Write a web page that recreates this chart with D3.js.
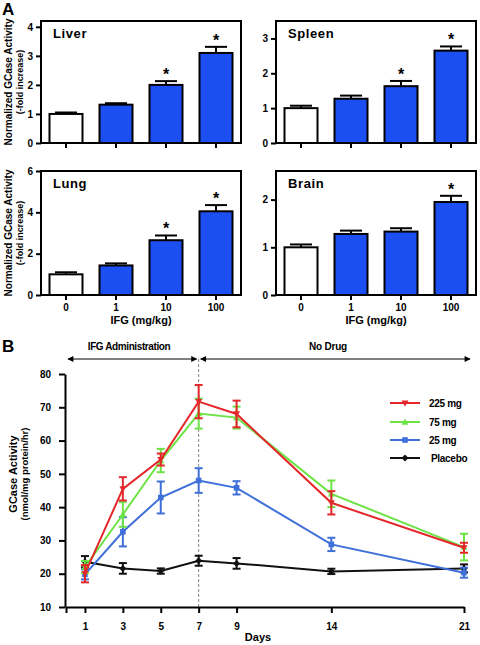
<!DOCTYPE html>
<html><head><meta charset="utf-8">
<script src="https://cdn.jsdelivr.net/npm/d3@7"></script>
<style>
html,body{margin:0;padding:0;background:#fff;}
svg{display:block;font-family:"Liberation Sans",Arial,sans-serif;}
</style></head>
<body><svg id="c" width="480" height="645"></svg>
<script>
// ---------- Panel A data ----------
const doses = ["0", "1", "10", "100"];
const liverMean  = [1.00, 1.32, 2.00, 3.10];
const liverErr   = [0.05, 0.05, 0.13, 0.21];
const liverSig   = [0, 0, 1, 1];
const spleenMean = [1.00, 1.27, 1.63, 2.65];
const spleenErr  = [0.07, 0.09, 0.15, 0.12];
const spleenSig  = [0, 0, 1, 1];
const lungMean   = [1.00, 1.43, 2.65, 4.05];
const lungErr    = [0.10, 0.10, 0.23, 0.30];
const lungSig    = [0, 0, 1, 1];
const brainMean  = [1.00, 1.28, 1.33, 1.95];
const brainErr   = [0.06, 0.07, 0.07, 0.13];
const brainSig   = [0, 0, 0, 1];
const liverTicks  = [0, 1, 2, 3, 4];
const spleenTicks = [0, 1, 2, 3];
const lungTicks   = [0, 2, 4, 6];
const brainTicks  = [0, 1, 2];

// ---------- Panel B data ----------
const days = [1, 3, 5, 7, 9, 14, 21];
const mg225 = [20.0, 45.5, 54.3, 71.7, 68.0, 41.3, 27.8];
const err225 = [2.6, 3.5, 1.8, 5.0, 4.0, 3.5, 1.5];
const mg75 = [22.0, 37.8, 54.0, 68.1, 66.9, 44.0, 28.0];
const err75 = [1.8, 3.7, 3.5, 4.5, 3.3, 4.0, 4.0];
const mg25 = [19.8, 32.6, 42.9, 48.0, 45.8, 28.8, 20.3];
const err25 = [1.5, 4.4, 4.8, 3.7, 2.0, 2.0, 1.5];
const placebo = [23.6, 21.6, 20.8, 23.9, 23.1, 20.7, 21.6];
const errPlacebo = [1.7, 1.6, 0.8, 1.5, 1.6, 0.8, 1.2];
const seriesNames = ["225 mg", "75 mg", "25 mg", "Placebo"];
const yTicksB = [10, 20, 30, 40, 50, 60, 70, 80];

const svg = d3.select("#c");
const BAR_BLUE = "#1c4ff2";

svg.append("text").attr("x", 2).attr("y", 15).attr("font-size", 17).attr("font-weight", "bold").text("A");
svg.append("text").attr("x", 2).attr("y", 352).attr("font-size", 17).attr("font-weight", "bold").text("B");

function barPanel(o) {
  const x = d3.scaleBand().domain(doses).range([o.x0, o.x0 + 200]).paddingInner(0.34).paddingOuter(0.17);
  const y = d3.scaleLinear().domain([0, o.ymax]).range([o.y1, o.y0]);
  const g = svg.append("g");
  const data = doses.map((d, i) => ({d, m: o.mean[i], e: o.err[i], s: o.sig[i], i}));
  data.forEach(r => {
    const cx = x(r.d) + x.bandwidth() / 2;
    g.append("line").attr("x1", cx).attr("x2", cx).attr("y1", y(r.m)).attr("y2", y(r.m + r.e))
      .attr("stroke", "#000").attr("stroke-width", 2);
    g.append("line").attr("x1", cx - 11).attr("x2", cx + 11).attr("y1", y(r.m + r.e)).attr("y2", y(r.m + r.e))
      .attr("stroke", "#000").attr("stroke-width", 2);
    if (r.s) g.append("text").attr("x", cx).attr("y", y(r.m + r.e) - 1).attr("text-anchor", "middle")
      .attr("font-size", 16).attr("font-weight", "bold").text("*");
  });
  g.selectAll("rect.bar").data(data).join("rect").attr("class", "bar")
    .attr("x", r => x(r.d)).attr("width", x.bandwidth())
    .attr("y", r => y(r.m)).attr("height", r => y(0) - y(r.m))
    .attr("fill", r => r.i === 0 ? "#fff" : BAR_BLUE).attr("stroke", "#000").attr("stroke-width", 2);
  g.append("rect").attr("x", o.x0).attr("y", o.y0).attr("width", 200).attr("height", o.y1 - o.y0)
    .attr("fill", "none").attr("stroke", "#000").attr("stroke-width", 2);
  const ya = g.append("g").attr("transform", `translate(${o.x0},0)`)
    .call(d3.axisLeft(y).tickValues(o.ticks).tickFormat(d3.format("d")).tickSize(5).tickPadding(3));
  ya.select(".domain").remove();
  ya.selectAll("line").attr("stroke-width", 2);
  ya.selectAll("text").attr("font-size", 10).attr("font-weight", "bold").attr("font-family", "Liberation Sans, Arial");
  const xa = g.append("g").attr("transform", `translate(0,${o.y1})`)
    .call(d3.axisBottom(x).tickSize(5).tickPadding(4).tickFormat(o.showX ? (d => d) : (() => "")));
  xa.select(".domain").remove();
  xa.selectAll("line").attr("stroke-width", 2);
  xa.selectAll("text").attr("font-size", 10).attr("font-weight", "bold").attr("font-family", "Liberation Sans, Arial");
  if (o.showX) {
    g.append("text").attr("x", o.x0 + 100).attr("y", o.y1 + 29).attr("text-anchor", "middle")
      .attr("font-size", 11).attr("font-weight", "bold").text("IFG (mg/kg)");
  }
  g.append("text").attr("x", o.x0 + 12).attr("y", o.y0 + 17).attr("font-size", 13).attr("font-weight", "bold")
    .attr("letter-spacing", 0.6).text(o.title);
  if (o.ytitle) {
    const cy = (o.y0 + o.y1) / 2;
    g.append("text").attr("transform", `translate(12,${cy}) rotate(-90)`).attr("text-anchor", "middle")
      .attr("font-size", 10).attr("font-weight", "bold").text("Normalized GCase Activity");
    g.append("text").attr("transform", `translate(23,${cy}) rotate(-90)`).attr("text-anchor", "middle")
      .attr("font-size", 9).attr("font-weight", "bold").text("(-fold increase)");
  }
}

barPanel({x0: 41, y0: 21, y1: 143, ymax: 4.2, mean: liverMean, err: liverErr, sig: liverSig, ticks: liverTicks, title: "Liver", showX: false, ytitle: true});
barPanel({x0: 276, y0: 21, y1: 143, ymax: 3.5, mean: spleenMean, err: spleenErr, sig: spleenSig, ticks: spleenTicks, title: "Spleen", showX: false, ytitle: false});
barPanel({x0: 41, y0: 171, y1: 295, ymax: 6, mean: lungMean, err: lungErr, sig: lungSig, ticks: lungTicks, title: "Lung", showX: true, ytitle: true});
barPanel({x0: 276, y0: 171, y1: 295, ymax: 2.6, mean: brainMean, err: brainErr, sig: brainSig, ticks: brainTicks, title: "Brain", showX: true, ytitle: false});

// ---------- Panel B ----------
const xB = d3.scaleLinear().domain([0, 21]).range([66, 464]);
const yB = d3.scaleLinear().domain([10, 80]).range([607, 374]);
const gB = svg.append("g");

const defs = svg.append("defs");
defs.append("marker").attr("id", "ah").attr("viewBox", "0 0 10 10").attr("refX", 9).attr("refY", 5)
  .attr("markerWidth", 7).attr("markerHeight", 6).attr("markerUnits", "userSpaceOnUse").attr("orient", "auto-start-reverse")
  .append("path").attr("d", "M0,0 L10,5 L0,10 z").attr("fill", "#000");

const arrowY = 359;
gB.append("line").attr("x1", 68).attr("x2", xB(7) - 2).attr("y1", arrowY).attr("y2", arrowY)
  .attr("stroke", "#000").attr("stroke-width", 1).attr("marker-start", "url(#ah)").attr("marker-end", "url(#ah)");
gB.append("line").attr("x1", xB(7) + 2).attr("x2", 470).attr("y1", arrowY).attr("y2", arrowY)
  .attr("stroke", "#000").attr("stroke-width", 1).attr("marker-start", "url(#ah)").attr("marker-end", "url(#ah)");
gB.append("text").attr("x", 129).attr("y", 350).attr("text-anchor", "middle").attr("font-size", 10)
  .attr("font-weight", "bold").attr("letter-spacing", -0.4).text("IFG Administration");
gB.append("text").attr("x", 328).attr("y", 350).attr("text-anchor", "middle").attr("font-size", 10)
  .attr("font-weight", "bold").attr("letter-spacing", -0.2).text("No Drug");

gB.append("line").attr("x1", xB(7)).attr("x2", xB(7)).attr("y1", arrowY).attr("y2", yB(10))
  .attr("stroke", "#888").attr("stroke-width", 1).attr("stroke-dasharray", "3,2");

const yaB = gB.append("g").attr("transform", "translate(65,0)")
  .call(d3.axisLeft(yB).tickValues(yTicksB).tickSize(6).tickPadding(8).tickSizeOuter(0));
yaB.select(".domain").attr("stroke-width", 2);
yaB.selectAll("line").attr("stroke-width", 2);
yaB.selectAll("text").attr("font-size", 10).attr("font-weight", "bold").attr("font-family", "Liberation Sans, Arial");

const xaB = gB.append("g").attr("transform", `translate(0,${yB(10)})`)
  .call(d3.axisBottom(xB).tickValues([0].concat(days)).tickFormat(d => d === 0 ? "" : d).tickSize(6).tickPadding(10).tickSizeOuter(0));
xaB.select(".domain").attr("stroke-width", 2);
xaB.selectAll("line").attr("stroke-width", 2);
xaB.selectAll("text").attr("font-size", 10).attr("font-weight", "bold").attr("font-family", "Liberation Sans, Arial");

gB.append("text").attr("x", 258).attr("y", 641).attr("text-anchor", "middle").attr("font-size", 11)
  .attr("font-weight", "bold").text("Days");
gB.append("text").attr("transform", "translate(17,474) rotate(-90)").attr("text-anchor", "middle")
  .attr("font-size", 11).attr("font-weight", "bold").text("GCase Activity");
gB.append("text").attr("transform", "translate(28,474) rotate(-90)").attr("text-anchor", "middle")
  .attr("font-size", 9.5).attr("font-weight", "bold").text("(nmol/mg protein/hr)");

const series = [
  {name: seriesNames[3], v: placebo, e: errPlacebo, color: "#111111", sym: "diamond"},
  {name: seriesNames[2], v: mg25, e: err25, color: "#3f6fd8", sym: "square"},
  {name: seriesNames[1], v: mg75, e: err75, color: "#6de346", sym: "up"},
  {name: seriesNames[0], v: mg225, e: err225, color: "#e3272b", sym: "down"}
];
function symPath(sym, s) {
  if (sym === "diamond") return `M0,${-s}L${s},0L0,${s}L${-s},0Z`;
  if (sym === "square") return `M${-s * 0.8},${-s * 0.8}h${s * 1.6}v${s * 1.6}h${-s * 1.6}Z`;
  if (sym === "up") return `M0,${-s}L${s},${s * 0.75}L${-s},${s * 0.75}Z`;
  return `M0,${s}L${s},${-s * 0.75}L${-s},${-s * 0.75}Z`;
}
const line = d3.line().x(d => xB(d.d)).y(d => yB(d.v));
series.forEach(s => {
  const pts = days.map((d, i) => ({d, v: s.v[i], e: s.e[i]}));
  const g = gB.append("g");
  pts.forEach(p => {
    const cx = xB(p.d);
    g.append("line").attr("x1", cx).attr("x2", cx).attr("y1", yB(p.v - p.e)).attr("y2", yB(p.v + p.e))
      .attr("stroke", s.color).attr("stroke-width", 2);
    [p.v - p.e, p.v + p.e].forEach(yy => g.append("line").attr("x1", cx - 4).attr("x2", cx + 4)
      .attr("y1", yB(yy)).attr("y2", yB(yy)).attr("stroke", s.color).attr("stroke-width", 2));
  });
  g.append("path").attr("d", line(pts)).attr("fill", "none").attr("stroke", s.color).attr("stroke-width", 2);
  g.selectAll("path.m").data(pts).join("path").attr("class", "m")
    .attr("transform", p => `translate(${xB(p.d)},${yB(p.v)})`).attr("d", symPath(s.sym, 3.5)).attr("fill", s.color);
});

const legOrder = [series[3], series[2], series[1], series[0]];
const legY = [403, 422, 440, 458];
legOrder.forEach((s, i) => {
  const y = legY[i];
  gB.append("line").attr("x1", 390).attr("x2", 420).attr("y1", y).attr("y2", y).attr("stroke", s.color).attr("stroke-width", 2);
  gB.append("path").attr("transform", `translate(405,${y})`).attr("d", symPath(s.sym, 3.5)).attr("fill", s.color);
  gB.append("text").attr("x", s.name === "Placebo" ? 431 : 429).attr("y", y + 3.5).attr("font-size", 10)
    .attr("font-weight", "bold").attr("letter-spacing", -0.3).text(s.name);
});
</script></body></html>
